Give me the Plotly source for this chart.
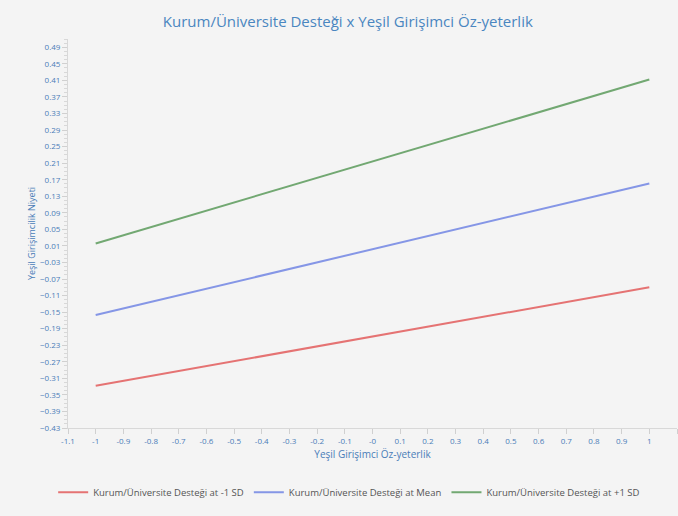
import plotly.graph_objects as go

x_vals = [-1, 1]
low_sd = [-0.328, -0.090]
mean_vals = [-0.157, 0.161]
high_sd = [0.016, 0.412]

series_names = [
    "Kurum/Üniversite Desteği at -1 SD",
    "Kurum/Üniversite Desteği at Mean",
    "Kurum/Üniversite Desteği at +1 SD",
]
series_colors = ["#e57373", "#8596e6", "#72a872"]

x_tickvals = [-1.1, -1.0, -0.9, -0.8, -0.7, -0.6, -0.5, -0.4, -0.3, -0.2, -0.1, 0.0,
              0.1, 0.2, 0.3, 0.4, 0.5, 0.6, 0.7, 0.8, 0.9, 1.0, 1.1]
x_ticktext = ["-1.1", "-1", "-0.9", "-0.8", "-0.7", "-0.6", "-0.5", "-0.4", "-0.3", "-0.2",
              "-0.1", "-0", "0.1", "0.2", "0.3", "0.4", "0.5", "0.6", "0.7", "0.8", "0.9",
              "1", "1.1"]

title_text = "Kurum/Üniversite Desteği x Yeşil Girişimci Öz-yeterlik"
x_title = "Yeşil Girişimci Öz-yeterlik"
y_title = "Yeşil Girişimcilik Niyeti"

bg = "#f4f4f4"
blue_text = "#4a7db8"

fig = go.Figure()
for name, ys, col in zip(series_names, [low_sd, mean_vals, high_sd], series_colors):
    fig.add_trace(go.Scatter(x=x_vals, y=ys, mode="lines", name=name,
                             line=dict(color=col, width=2)))

fig.update_layout(
    width=678, height=516,
    paper_bgcolor=bg, plot_bgcolor=bg,
    margin=dict(l=68, r=1, t=39, b=88, autoexpand=False),
    font=dict(family="Open Sans", color=blue_text),
    title=dict(text=title_text, x=0.513, xanchor="center", y=0.958, yanchor="middle",
               font=dict(size=15, color="#4a86c0", family="Open Sans")),
    showlegend=True,
    legend=dict(orientation="h", xref="container", x=0.515, xanchor="center",
                y=-0.165, yanchor="middle",
                font=dict(size=9.5, color="#555555"), itemwidth=30,
                bgcolor="rgba(0,0,0,0)"),
)

fig.update_xaxes(
    range=[-1.1, 1.1], tickmode="array", tickvals=x_tickvals, ticktext=x_ticktext,
    automargin=False,
    showgrid=False, zeroline=False, showline=True, linecolor="#d8d8d8", linewidth=1,
    ticks="outside", ticklen=5, tickcolor="#d0d0d0",
    tickfont=dict(size=8, color=blue_text),
    title=dict(text=x_title, font=dict(size=10, color=blue_text), standoff=6),
)

fig.update_yaxes(
    range=[-0.43, 0.51], tick0=-0.43, dtick=0.04, tickformat=".2f",
    automargin=False,
    showgrid=False, zeroline=False, showline=True, linecolor="#d8d8d8", linewidth=1,
    ticks="outside", ticklen=5, tickcolor="#d0d0d0",
    minor=dict(dtick=0.01, tick0=-0.43, ticks="outside", ticklen=3, tickcolor="#d8d8d8"),
    tickfont=dict(size=8, color=blue_text),
    title=dict(text=y_title, font=dict(size=9, color=blue_text), standoff=2),
)

fig.write_html(
    "out.html",
    config={"displayModeBar": False},
    post_script="document.body.style.margin='0';document.body.style.overflow='hidden';"
                "document.body.style.background='#f4f4f4';",
)
